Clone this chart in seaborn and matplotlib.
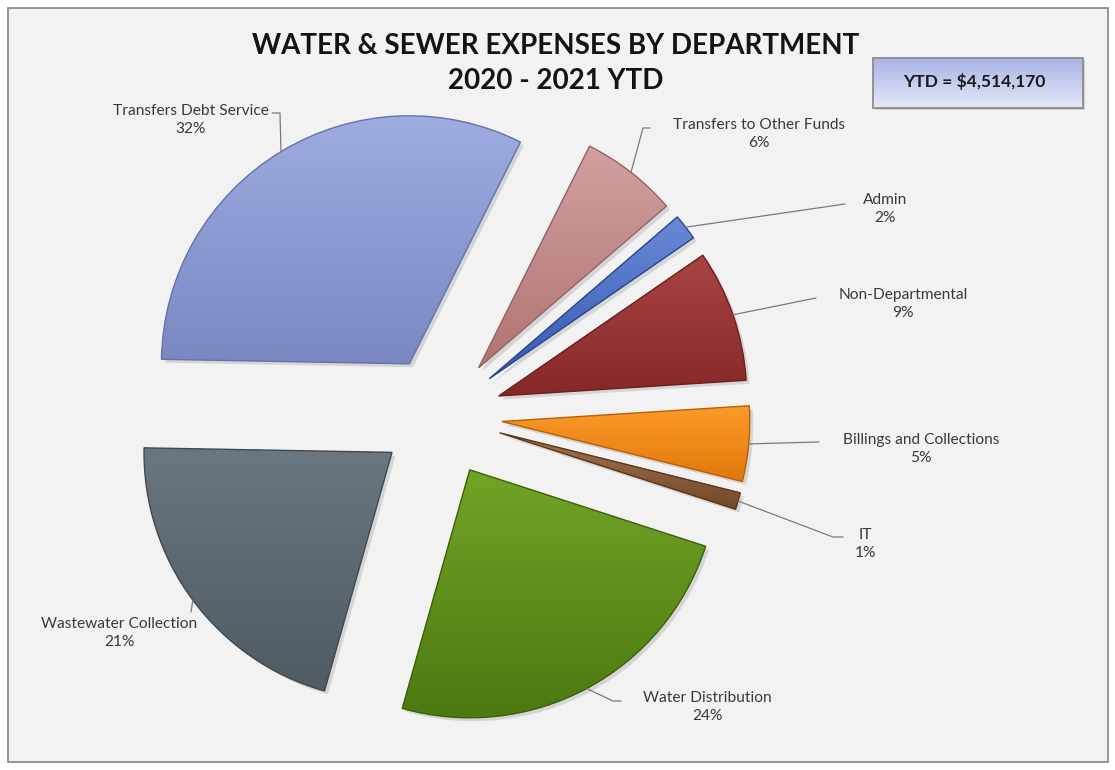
import numpy as np
import matplotlib
matplotlib.use("Agg")
import matplotlib.pyplot as plt
import matplotlib.patheffects as pe
from matplotlib.patches import Rectangle, PathPatch
import seaborn as sns

# ---------------- data ----------------
categories = ["Transfers to Other Funds", "Admin", "Non-Departmental",
              "Billings and Collections", "IT", "Water Distribution",
              "Wastewater Collection", "Transfers Debt Service"]
shares = [6.3, 1.7, 8.6, 4.9, 1.1, 24.4, 20.9, 32.1]          # percent of YTD
ytd_total = 4514170
title_lines = ["WATER & SEWER EXPENSES BY DEPARTMENT", "2020 - 2021 YTD"]

top_colors = ["#d2a0a0", "#6a8ad8", "#a94444", "#fb9a2a", "#a37450",
              "#72a426", "#6b7780", "#9eace0"]
bottom_colors = ["#b07474", "#3559b0", "#862828", "#e0780a", "#74482a",
                 "#4b7810", "#4f5a62", "#7a87c2"]
edge_colors = ["#9a6262", "#2a4590", "#6e1e1e", "#b86008", "#5a3518",
               "#3d6008", "#40494f", "#6672aa"]

# ---------------- layout (pixel space) ----------------
W, H = 1115, 770
def P(x, y):
    return (x, H - y)

label_centers = [(759, 134), (885, 209), (903, 304), (921, 449), (865, 544),
                 (707, 707), (119, 633), (191, 120)]
leader_elbows = [[(643, 128), (650, 128)], [(845, 204)], [(816, 298)],
                 [(819, 442)], [(833, 537), (843, 537)],
                 [(613, 701), (621, 701)], [(191, 612)],
                 [(280, 113), (272, 113)]]

sns.set_theme(style="white")
plt.rcParams["font.family"] = ["Lato", "DejaVu Sans"]

fig = plt.figure(figsize=(W / 100, H / 100), dpi=100)
fig.patch.set_facecolor("white")
fig.add_artist(Rectangle((8 / W, 1 - 762 / H), 1100 / W, 754 / H,
                         transform=fig.transFigure, facecolor="#f2f2f2",
                         edgecolor="#8c8c8c", lw=1.3, zorder=0))

ax = fig.add_axes([0, 0, 1, 1])
ax.patch.set_visible(False)

wedges, _ = ax.pie(shares, startangle=63.4, counterclock=False,
                   radius=248, center=P(441, 416), explode=[61] * len(shares),
                   colors=bottom_colors, frame=False,
                   wedgeprops=dict(linewidth=0))

for i, w in enumerate(wedges):
    w.set_path_effects([pe.SimplePatchShadow(offset=(2.5, -2.5), alpha=0.16,
                                             shadow_rgbFace="#404040"),
                        pe.Normal()])
    verts = w.get_path().vertices
    x0, y0 = verts.min(axis=0)
    x1, y1 = verts.max(axis=0)
    cmap = sns.blend_palette([bottom_colors[i], top_colors[i]], as_cmap=True)
    grad = np.linspace(0, 1, 256).reshape(-1, 1)
    im = ax.imshow(grad, extent=[x0, x1, y0, y1], origin="lower", cmap=cmap,
                   aspect="auto", zorder=2, interpolation="bilinear")
    im.set_clip_path(w)
    ax.add_patch(PathPatch(w.get_path(), fill=False, edgecolor=edge_colors[i],
                           lw=1.0, zorder=3))
    # leader line from mid outer arc
    tm = np.deg2rad(0.5 * (w.theta1 + w.theta2))
    cx, cy = w.center
    start = (cx + w.r * np.cos(tm), cy + w.r * np.sin(tm))
    pts = [start] + [P(*p) for p in leader_elbows[i]]
    xs, ys = zip(*pts)
    ax.plot(xs, ys, color="#7a7a7a", lw=0.9, zorder=4)
    lx, ly = P(*label_centers[i])
    ax.text(lx, ly, f"{categories[i]}\n{round(shares[i]):.0f}%",
            ha="center", va="center", fontsize=11.2, color="#3a3a3a",
            linespacing=1.3, zorder=5)

ax.set_xlim(0, W)
ax.set_ylim(0, H)
ax.set_aspect("auto")
ax.axis("off")

# title
for k, t in enumerate(title_lines):
    ax.text(556, H - (46 + 35 * k), t, ha="center", va="center",
            fontsize=20, fontweight="bold", color="#141414")

# YTD box
bx0, by0, bx1, by1 = 873, 58, 1083, 108
box = Rectangle(P(bx0, by1), bx1 - bx0, by1 - by0, facecolor="none",
                edgecolor="#8c8c8c", lw=1.3, zorder=6)
ax.add_patch(box)
shadow = Rectangle(P(bx0 + 2, by1 + 2), bx1 - bx0, by1 - by0,
                   facecolor="#d0d0d0", edgecolor="none", zorder=5)
ax.add_patch(shadow)
bcmap = sns.blend_palette(["#e6e9f7", "#a9b3e6"], as_cmap=True)
bim = ax.imshow(np.linspace(0, 1, 128).reshape(-1, 1),
                extent=[bx0, bx1, H - by1, H - by0], origin="lower",
                cmap=bcmap, aspect="auto", zorder=5.5)
ax.text((bx0 + bx1) / 2 - 4, H - 81, f"YTD = ${ytd_total:,}", ha="center",
        va="center", fontsize=12.5, fontweight="bold", color="#1a1a1a",
        zorder=7)

ax.set_xlim(0, W)
ax.set_ylim(0, H)
fig.savefig("out.png", dpi=100, facecolor=fig.get_facecolor())
